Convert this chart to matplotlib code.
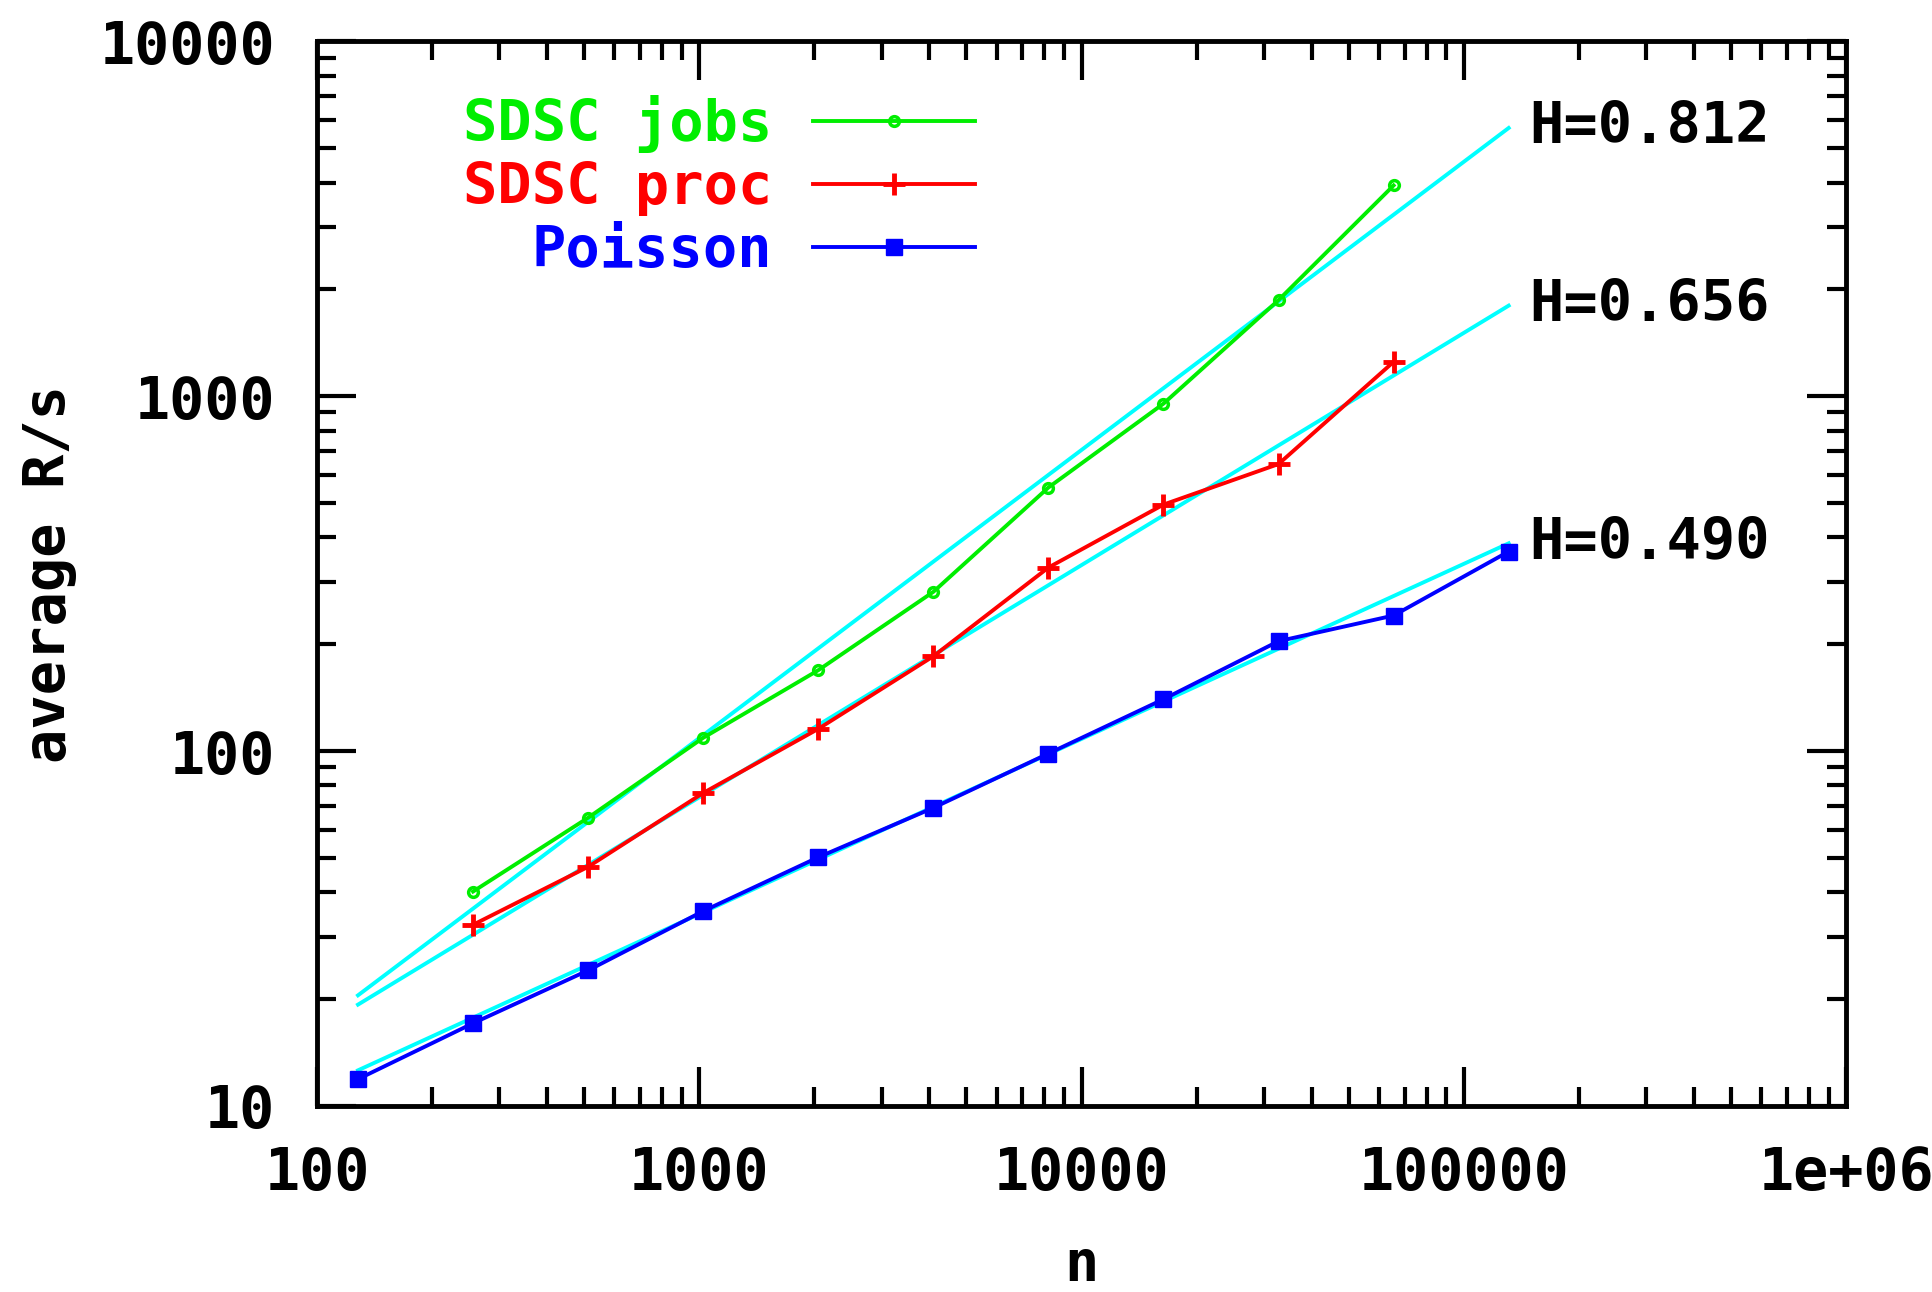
import matplotlib.pyplot as plt
from matplotlib.ticker import FixedLocator, FixedFormatter, LogLocator, NullFormatter

# data
n_sdsc = [256, 512, 1024, 2048, 4096, 8192, 16384, 32768, 65536]
sdsc_jobs = [40.2, 64.9, 109, 169, 281, 553, 953, 1866, 3926]
sdsc_proc = [32.4, 47.2, 76.2, 115.5, 185, 329, 495, 644, 1250]

n_poisson = [128, 256, 512, 1024, 2048, 4096, 8192, 16384, 32768, 65536, 131072]
poisson = [11.9, 17.1, 24.1, 35.4, 50.2, 69.2, 98.4, 140, 204, 241, 365]

# fitted lines (end points)
fit_n = [128, 131072]
fit_jobs = [20.5, 5700]
fit_proc = [19.3, 1800]
fit_poisson = [12.6, 385]
fit_labels = ['H=0.812', 'H=0.656', 'H=0.490']

xticks = [100, 1000, 10000, 100000, 1000000]
xticklabels = ['100', '1000', '10000', '100000', '1e+06']
yticks = [10, 100, 1000, 10000]
yticklabels = ['10', '100', '1000', '10000']

plt.rcParams['font.family'] = 'DejaVu Sans Mono'
plt.rcParams['font.weight'] = 'bold'

fig = plt.figure(figsize=(19.33, 12.92), dpi=100)
ax = fig.add_axes([0.164, 0.144, 0.791, 0.824])

green = '#00ee00'
red = '#ff0000'
blue = '#0000ff'
cyan = '#00ffff'
fs = 41

ax.plot(n_sdsc, sdsc_jobs, color=green, lw=2.8, marker='o', ms=7, mfc='none', mew=2.5, label='SDSC jobs')
ax.plot(n_sdsc, sdsc_proc, color=red, lw=2.8, marker='+', ms=16, mew=3.5, label='SDSC proc')
ax.plot(n_poisson, poisson, color=blue, lw=2.8, marker='s', ms=12, label='Poisson')

for fv in [fit_jobs, fit_proc, fit_poisson]:
    ax.plot(fit_n, fv, color=cyan, lw=2.8, zorder=1)

for fv, lab in zip([fit_jobs, fit_proc, fit_poisson], fit_labels):
    ax.text(fit_n[-1] * 1.13, fv[-1], lab, fontsize=fs, fontweight='bold', va='center', ha='left')

ax.set_xscale('log')
ax.set_yscale('log')
ax.set_xlim(100, 1e6)
ax.set_ylim(10, 10000)

ax.xaxis.set_major_locator(FixedLocator(xticks))
ax.xaxis.set_major_formatter(FixedFormatter(xticklabels))
ax.yaxis.set_major_locator(FixedLocator(yticks))
ax.yaxis.set_major_formatter(FixedFormatter(yticklabels))
ax.xaxis.set_minor_locator(LogLocator(base=10, subs=range(2, 10)))
ax.yaxis.set_minor_locator(LogLocator(base=10, subs=range(2, 10)))
ax.xaxis.set_minor_formatter(NullFormatter())
ax.yaxis.set_minor_formatter(NullFormatter())

ax.tick_params(which='both', direction='in', top=True, right=True, width=3, labelsize=42)
ax.tick_params(which='major', length=28)
ax.tick_params(axis='y', which='major', pad=30)
ax.tick_params(axis='x', which='major', pad=28)
ax.tick_params(which='minor', length=14)
for sp in ax.spines.values():
    sp.set_linewidth(3.5)

ax.set_xlabel('n', fontsize=fs, fontweight='bold', labelpad=26)
ax.set_ylabel('average R/s', fontsize=fs, fontweight='bold', labelpad=16)

leg = ax.legend(loc='upper right', bbox_to_anchor=(0.449, 0.9765), frameon=False, markerfirst=False,
                fontsize=fs, borderpad=0, handlelength=2.84, handletextpad=0.72,
                labelspacing=0.14, numpoints=1)
for t, c in zip(leg.get_texts(), [green, red, blue]):
    t.set_color(c)

fig.savefig('out.png', dpi=100)
